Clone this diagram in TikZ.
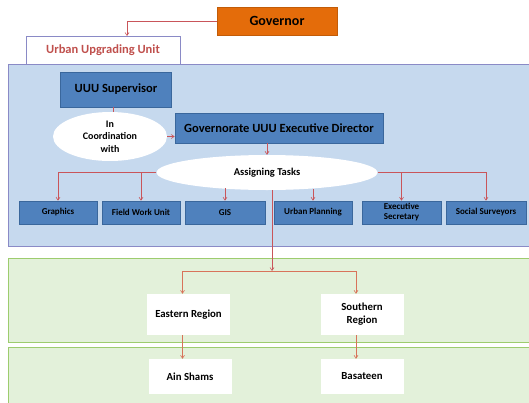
\documentclass[tikz,border=0pt]{standalone}
\usepackage{fontspec}
\setmainfont{Carlito}
\usetikzlibrary{arrows.meta,shapes.geometric}
\definecolor{govorange}{HTML}{E46C0A}
\definecolor{uuured}{HTML}{C0504D}
\definecolor{panelblue}{HTML}{C6D9EE}
\definecolor{panelborder}{HTML}{8A8AC6}
\definecolor{boxblue}{HTML}{4F81BD}
\definecolor{boxborder}{HTML}{3A679C}
\definecolor{greenfill}{HTML}{E3F1DA}
\definecolor{greenborder}{HTML}{9DCC6E}
\definecolor{arrowred}{HTML}{C9555A}
\definecolor{arroworange}{HTML}{D8735A}
\tikzset{
  every node/.style={font=\bfseries, align=center, inner sep=1pt},
  bluebox/.style={rectangle, fill=boxblue, draw=boxborder, line width=0.6pt, text=black},
  lowbox/.style={bluebox, minimum width=78pt, minimum height=23pt, font=\bfseries\fontsize{9}{10}\selectfont},
  whitebox/.style={rectangle, fill=white, minimum width=83pt, text=black, font=\bfseries\fontsize{10.8}{13}\selectfont},
  oval/.style={ellipse, fill=white, text=black, inner sep=0pt},
  conn/.style={draw=arrowred, line width=0.6pt},
  arr/.style={conn, -{Straight Barb[length=3pt,width=4pt]}},
  arro/.style={draw=arroworange, line width=0.6pt, -{Straight Barb[length=3pt,width=4pt]}},
}
\begin{document}
\begin{tikzpicture}[x=1pt,y=-1pt]
\useasboundingbox (0,0) rectangle (529,402);
% panels
\draw[fill=panelblue, draw=panelborder, line width=0.8pt] (8,64) rectangle (535,246);
\draw[fill=greenfill, draw=greenborder, line width=0.8pt] (8,258) rectangle (535,342);
\draw[fill=greenfill, draw=greenborder, line width=0.8pt] (8,347) rectangle (535,410);
% top
\node[rectangle, fill=govorange, draw=govorange!85!black, line width=0.4pt, minimum width=120pt, minimum height=28pt, font=\bfseries\fontsize{14}{16}\selectfont] (gov) at (277,21) {Governor};
\node[rectangle, fill=white, draw=panelborder, line width=0.8pt, minimum width=154pt, minimum height=28pt, text=uuured, font=\bfseries\fontsize{12.5}{14}\selectfont] (uuu) at (103,50) {Urban Upgrading Unit};
\coordinate (uuuin) at (127,36);
\draw[arr] (gov.west) -| (uuuin);
% blue part
\node[bluebox, minimum width=111pt, minimum height=35pt, font=\bfseries\fontsize{12.5}{14}\selectfont] (sup) at (116,89.5) {UUU Supervisor};
\node[oval, minimum width=114pt, minimum height=49pt, font=\bfseries\fontsize{10}{12.5}\selectfont] (coord) at (110,136.5) {In\\Coordination\\with};
\node[bluebox, minimum width=208pt, minimum height=30pt, font=\bfseries\fontsize{12.5}{14}\selectfont] (dir) at (279,128) {Governorate UUU Executive Director};
\node[oval, minimum width=221pt, minimum height=35pt, font=\bfseries\fontsize{10.5}{12}\selectfont] (assign) at (267,172.5) {Assigning Tasks};
\draw[conn] (113,107) -- (113,112);
\draw[arr] (coord.east) -- (coord.east -| dir.west);
\draw[arr] (dir.south -| assign.north) -- (assign.north);
% lower boxes
\node[lowbox] (graphics) at (58,212.5) {Graphics};
\node[lowbox] (field) at (141,212.5) {Field Work Unit};
\node[lowbox, minimum width=80pt] (gis) at (225,212.5) {GIS};
\node[lowbox] (plan) at (313,212.5) {Urban Planning};
\node[lowbox, minimum width=79pt] (exec) at (401.5,212.5) {Executive\\Secretary};
\node[lowbox, minimum width=80pt] (social) at (486,212.5) {Social Surveyors};
\draw[arr] (assign.west) -| (graphics.north);
\draw[arr] (assign.west) -| (field.north);
\draw[arr] (assign.east) -| (exec.north);
\draw[arr] (assign.east) -| (social.north);
\draw[arr] (gis.north |- 0,188) -- (gis.north);
\draw[arr] (plan.north |- 0,189) -- (plan.north);
% regions
\node[whitebox, minimum height=41pt] (east) at (188.5,314.5) {Eastern Region};
\node[whitebox, minimum height=41pt] (south) at (362,314.5) {Southern\\Region};
\node[whitebox, minimum height=35pt] (ain) at (190,376.5) {Ain Shams};
\node[whitebox, minimum height=35pt] (bas) at (362,376.5) {Basateen};
\coordinate (junc) at (272,271);
\draw[arr] (272,190) -- (junc);
\draw[arro] (junc) -| ([xshift=-6pt]east.north);
\draw[arro] (junc) -| ([xshift=-6pt]south.north);
\draw[arro] ([xshift=-6pt]east.south) -- ([xshift=-6pt]east.south |- ain.north);
\draw[arro] ([xshift=-6pt]south.south) -- ([xshift=-6pt]south.south |- bas.north);
\end{tikzpicture}
\end{document}
